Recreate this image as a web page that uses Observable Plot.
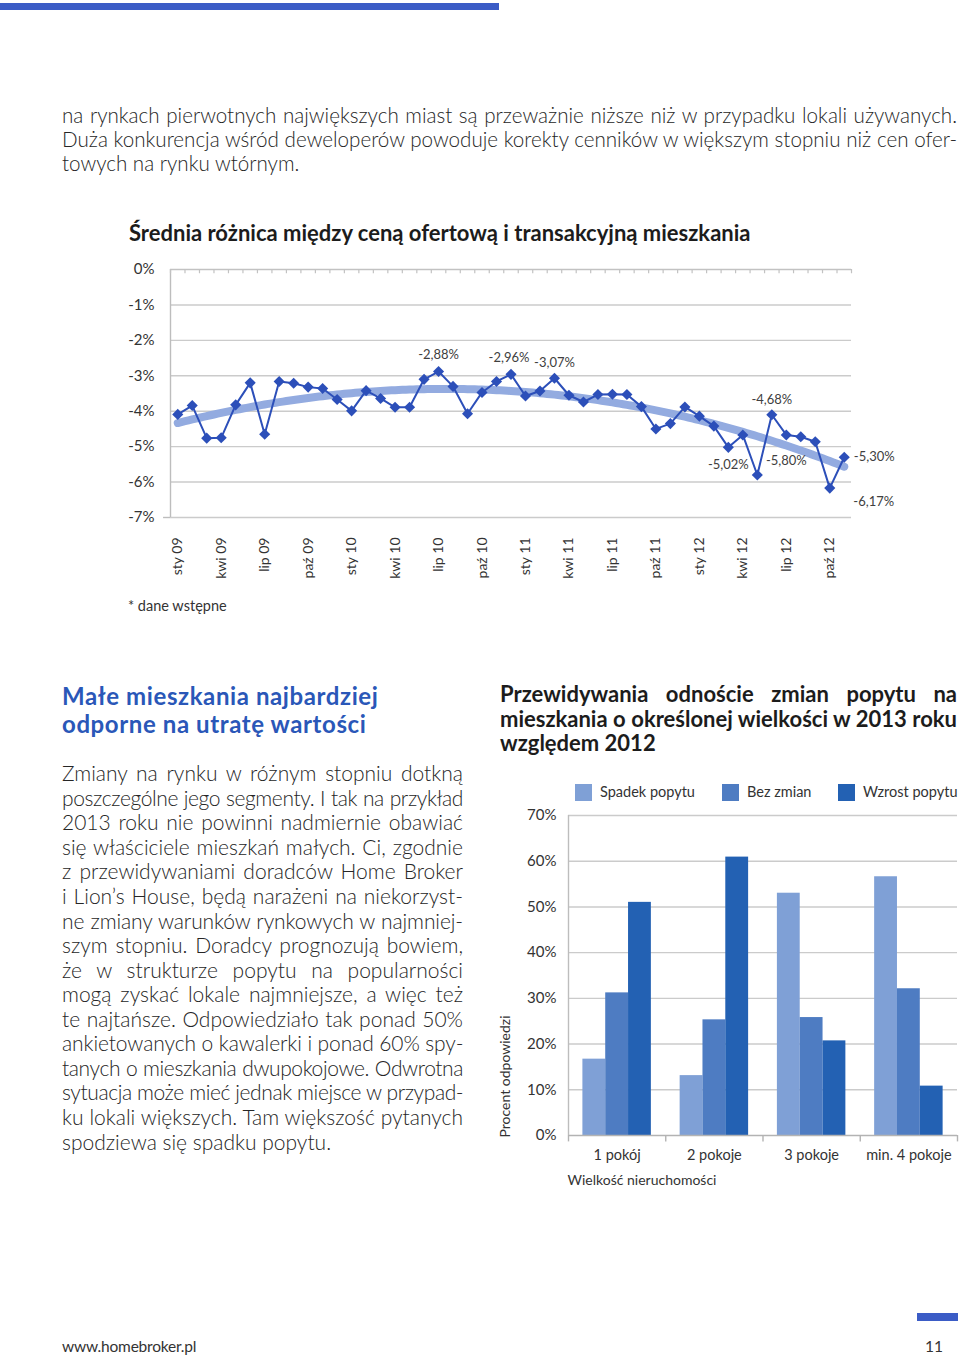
<!DOCTYPE html>
<html>
<head>
<meta charset="utf-8">
<script src="https://cdn.jsdelivr.net/npm/d3@7"></script>
<script src="https://cdn.jsdelivr.net/npm/@observablehq/plot@0.6"></script>
<style>
  html, body { margin: 0; padding: 0; background: #fff; }
  #page { position: relative; width: 960px; height: 1358px; overflow: hidden; font-family: Lato, "Open Sans", sans-serif; color: #262626; }
  .abs { position: absolute; }
  .body { font-size: 21px; font-weight: 300; line-height: 24.55px; }
  .jl { white-space: nowrap; text-align: justify; text-align-last: justify; }
  .ll { white-space: nowrap; text-align: left; }
  .bold { font-weight: 700; color: #1c1c1c; }
  .sq { position: absolute; width: 17px; height: 17px; }
  .lg { position: absolute; font-size: 14.5px; line-height: 18px; color: #333; white-space: nowrap; }
</style>
</head>
<body>
<div id="page">
  <div class="abs" style="left:0;top:3px;width:499px;height:7px;background:#3b5cc6"></div>

  <div class="abs body" style="left:62px;top:102.8px;width:895px;line-height:24px;font-size:20.6px">
    <div class="jl">na rynkach pierwotnych największych miast są przeważnie niższe niż w przypadku lokali używanych.</div>
    <div class="jl">Duża konkurencja wśród deweloperów powoduje korekty cenników w większym stopniu niż cen ofer-</div>
    <div class="ll">towych na rynku wtórnym.</div>
  </div>

  <div class="abs bold" style="left:129px;top:221px;font-size:22px;line-height:24px;white-space:nowrap">Średnia różnica między ceną ofertową i transakcyjną mieszkania</div>

  <div id="lineChart" class="abs" style="left:0;top:250px"></div>

  <div class="abs" style="left:128px;top:597px;font-size:14.5px;line-height:18px;color:#333">* dane wstępne</div>

  <div class="abs bold" style="left:62px;top:681.5px;font-size:24px;line-height:28.3px;letter-spacing:0.6px;color:#2a57b8;white-space:nowrap">Małe mieszkania najbardziej<br>odporne na utratę wartości</div>

  <div class="abs body" style="left:62px;top:761.3px;width:401px">
    <div class="jl">Zmiany na rynku w różnym stopniu dotkną</div>
    <div class="jl">poszczególne jego segmenty. I tak na przykład</div>
    <div class="jl">2013 roku nie powinni nadmiernie obawiać</div>
    <div class="jl">się właściciele mieszkań małych. Ci, zgodnie</div>
    <div class="jl">z przewidywaniami doradców Home Broker</div>
    <div class="jl">i Lion’s House, będą narażeni na niekorzyst-</div>
    <div class="jl">ne zmiany warunków rynkowych w najmniej-</div>
    <div class="jl">szym stopniu. Doradcy prognozują bowiem,</div>
    <div class="jl">że w strukturze popytu na popularności</div>
    <div class="jl">mogą zyskać lokale najmniejsze, a więc też</div>
    <div class="jl">te najtańsze. Odpowiedziało tak ponad 50%</div>
    <div class="jl">ankietowanych o kawalerki i ponad 60% spy-</div>
    <div class="jl">tanych o mieszkania dwupokojowe. Odwrotna</div>
    <div class="jl">sytuacja może mieć jednak miejsce w przypad-</div>
    <div class="jl">ku lokali większych. Tam większość pytanych</div>
    <div class="ll">spodziewa się spadku popytu.</div>
  </div>

  <div class="abs bold" style="left:500px;top:682px;width:457px;font-size:22px;line-height:24.5px">
    <div class="jl">Przewidywania odnoście zmian popytu na</div>
    <div class="jl">mieszkania o określonej wielkości w 2013 roku</div>
    <div class="ll">względem 2012</div>
  </div>

  <div id="legend"></div>

  <div id="barChart" class="abs" style="left:490px;top:805px"></div>

  <div class="abs" style="left:917px;top:1313px;width:41px;height:8px;background:#3b5cc6"></div>
  <div class="abs" style="left:62px;top:1337px;font-size:15.5px;line-height:18px;color:#333;letter-spacing:-0.2px">www.homebroker.pl</div>
  <div class="abs" style="left:900px;top:1337px;width:43px;text-align:right;font-size:15.5px;line-height:18px;color:#333">11</div>
</div>

<script>
// ---------- Line chart data ----------
const monthTickLabels = ["sty 09","kwi 09","lip 09","paź 09","sty 10","kwi 10","lip 10","paź 10",
  "sty 11","kwi 11","lip 11","paź 11","sty 12","kwi 12","lip 12","paź 12"];
// monthly values Jan 2009 – Nov 2012 (in %)
const priceGap = [
  -4.09, -3.84, -4.76, -4.75, -3.82, -3.20, -4.65, -3.16, -3.21, -3.32, -3.36, -3.67,
  -3.99, -3.42, -3.64, -3.89, -3.89, -3.10, -2.88, -3.30, -4.07, -3.47, -3.16, -2.96,
  -3.57, -3.43, -3.07, -3.55, -3.74, -3.53, -3.52, -3.53, -3.87, -4.50, -4.35, -3.88,
  -4.14, -4.42, -5.02, -4.67, -5.80, -4.10, -4.67, -4.72, -4.86, -6.17, -5.30
];
const lineYTicks = [0, -1, -2, -3, -4, -5, -6, -7];
const pointLabelIdx = [18, 23, 26, 38, 40, 41, 45, 46];
const pointLabelText = ["-2,88%", "-2,96%", "-3,07%", "-5,02%", "-5,80%", "-4,68%", "-6,17%", "-5,30%"];
const pointLabelOffset = [[0,-17],[-2,-17],[0,-15],[0,17],[29,-14],[0,-15],[44,14],[30,0]];

// ---------- Bar chart data ----------
const roomCategories = ["1 pokój", "2 pokoje", "3 pokoje", "min. 4 pokoje"];
const seriesNames = ["Spadek popytu", "Bez zmian", "Wzrost popytu"];
const spadekPopytu = [16.7, 13.1, 53.0, 56.6];
const bezZmian = [31.2, 25.3, 25.8, 32.1];
const wzrostPopytu = [51.0, 60.9, 20.7, 10.8];
const barYTicks = [0, 10, 20, 30, 40, 50, 60, 70];
const seriesColors = ["#7fa0d6", "#4e7cc2", "#2361b3"];

// ---------- build line chart ----------
const rows = priceGap.map((v, i) => ({i, v}));

// cubic least-squares trendline computed from the data
function polyFit(xs, ys, order) {
  const n = order + 1;
  const A = Array.from({length: n}, () => new Array(n + 1).fill(0));
  xs.forEach((x, k) => {
    for (let r = 0; r < n; r++) {
      for (let c = 0; c < n; c++) A[r][c] += Math.pow(x, r + c);
      A[r][n] += Math.pow(x, r) * ys[k];
    }
  });
  for (let i = 0; i < n; i++) {
    let p = i;
    for (let r = i + 1; r < n; r++) if (Math.abs(A[r][i]) > Math.abs(A[p][i])) p = r;
    [A[i], A[p]] = [A[p], A[i]];
    for (let r = 0; r < n; r++) {
      if (r === i) continue;
      const f = A[r][i] / A[i][i];
      for (let c = i; c <= n; c++) A[r][c] -= f * A[i][c];
    }
  }
  return A.map((row, i) => row[n] / row[i]);
}
const N = priceGap.length;
const coef = polyFit(rows.map(d => d.i / (N - 1)), priceGap, 3);
const trend = d3.range(0, N - 1 + 0.001, 0.25).map(i => {
  const t = i / (N - 1);
  return {i, v: coef.reduce((s, c, k) => s + c * Math.pow(t, k), 0)};
});

const boundaries = d3.range(N + 1).map(k => k - 0.5);
const labelRows = pointLabelIdx.map((idx, k) => ({i: idx, v: priceGap[idx], text: pointLabelText[k], off: pointLabelOffset[k]}));

const lineChart = Plot.plot({
  width: 960,
  height: 350,
  marginTop: 19,
  marginBottom: 83,
  marginLeft: 170,
  marginRight: 109,
  x: {type: "linear", domain: [-0.5, N - 0.5]},
  y: {domain: [-7, 0]},
  style: {fontFamily: "Lato, sans-serif", color: "#333", background: "transparent"},
  marks: [
    Plot.ruleY(lineYTicks.filter(d => d !== 0), {stroke: "#cbcbcb", strokeWidth: 1.4}),
    Plot.ruleY([-7], {x1: -0.98, x2: -0.5, stroke: "#bdbdbd", strokeWidth: 1.4}),
    Plot.ruleY([0], {stroke: "#c2c2c2", strokeWidth: 1.4}),
    Plot.ruleX([-0.5], {y1: -7, y2: 0, stroke: "#bdbdbd", strokeWidth: 1.4}),
    Plot.ruleX(boundaries, {y1: 0, y2: -0.12, stroke: "#c2c2c2", strokeWidth: 1.2}),
    Plot.axisY({ticks: lineYTicks, tickFormat: d => `${d}%`, tickSize: 0, tickPadding: 16, fontSize: 15, label: null}),
    Plot.axisX({ticks: d3.range(0, N, 3), tickFormat: i => monthTickLabels[i / 3], tickRotate: -90,
      tickSize: 0, tickPadding: 20, fontSize: 14, label: null, anchor: "bottom"}),
    Plot.line(trend, {x: "i", y: "v", stroke: "#93abe0", strokeWidth: 8, strokeLinecap: "round"}),
    Plot.line(rows, {x: "i", y: "v", stroke: "#2c4fb9", strokeWidth: 2}),
    Plot.dot(rows, {x: "i", y: "v", symbol: "diamond2", r: 5, fill: "#2c4fb9", stroke: "none"}),
    ...labelRows.map(l => Plot.text([l], {x: "i", y: "v", text: "text", dx: l.off[0], dy: l.off[1],
      fontSize: 13, fill: "#404040"}))
  ]
});
document.getElementById("lineChart").appendChild(lineChart);

// ---------- build bar chart ----------
const seriesValues = [spadekPopytu, bezZmian, wzrostPopytu];
const barRows = roomCategories.flatMap((cat, ci) =>
  seriesNames.map((s, si) => ({cat, ci, series: s, si, value: seriesValues[si][ci]})));
const groupPad = 0.148, barW = 0.2347;

const barChart = Plot.plot({
  width: 470,
  height: 400,
  marginTop: 10,
  marginBottom: 70,
  marginLeft: 78,
  marginRight: 3,
  x: {type: "linear", domain: [0, roomCategories.length]},
  y: {domain: [0, 70]},
  color: {domain: seriesNames, range: seriesColors},
  style: {fontFamily: "Lato, sans-serif", color: "#333", background: "transparent"},
  marks: [
    Plot.ruleY(barYTicks.filter(d => d > 0), {stroke: "#cbcbcb", strokeWidth: 1.4}),
    Plot.rect(barRows, {
      x1: d => d.ci + groupPad + d.si * barW,
      x2: d => d.ci + groupPad + (d.si + 1) * barW,
      y1: 0, y2: "value", fill: "series"
    }),
    Plot.ruleY([0], {stroke: "#b3b3b3", strokeWidth: 1.4}),
    Plot.ruleX([0], {y1: 0, y2: 70, stroke: "#bdbdbd", strokeWidth: 1.4}),
    Plot.ruleX(d3.range(roomCategories.length + 1), {y1: 0, y2: -1.4, stroke: "#b3b3b3", strokeWidth: 1.4}),
    Plot.axisY({ticks: barYTicks, tickFormat: d => `${d}%`, tickSize: 0, tickPadding: 12, fontSize: 15, label: null}),
    Plot.axisX({ticks: roomCategories.map((c, i) => i + 0.5), tickFormat: v => roomCategories[Math.floor(v)],
      tickSize: 0, tickPadding: 14, fontSize: 14.5, label: null}),
    Plot.text(["Procent odpowiedzi"], {text: d => d, frameAnchor: "bottom-left", rotate: -90,
      textAnchor: "start", dx: -59, dy: 2, fontSize: 14, fill: "#333"}),
    Plot.text(["Wielkość nieruchomości"], {text: d => d, frameAnchor: "bottom-left",
      textAnchor: "start", dx: -1, dy: 49, fontSize: 14, fill: "#333"})
  ]
});
document.getElementById("barChart").appendChild(barChart);

// ---------- legend (HTML, above the bar chart) ----------
const legendX = [575, 722, 838];
const legend = document.getElementById("legend");
seriesNames.forEach((name, k) => {
  const sq = document.createElement("div");
  sq.className = "sq";
  sq.style.left = legendX[k] + "px";
  sq.style.top = "784px";
  sq.style.background = seriesColors[k];
  legend.appendChild(sq);
  const t = document.createElement("div");
  t.className = "lg";
  t.style.left = (legendX[k] + 25) + "px";
  t.style.top = "783px";
  t.textContent = name;
  legend.appendChild(t);
});

// shrink any justified line that would overflow its box
document.querySelectorAll(".jl, .ll").forEach(el => {
  let ls = 0;
  while (el.scrollWidth > el.clientWidth + 0.5 && ls > -1.5) {
    ls -= 0.1;
    el.style.letterSpacing = ls + "px";
  }
});
</script>
</body>
</html>
